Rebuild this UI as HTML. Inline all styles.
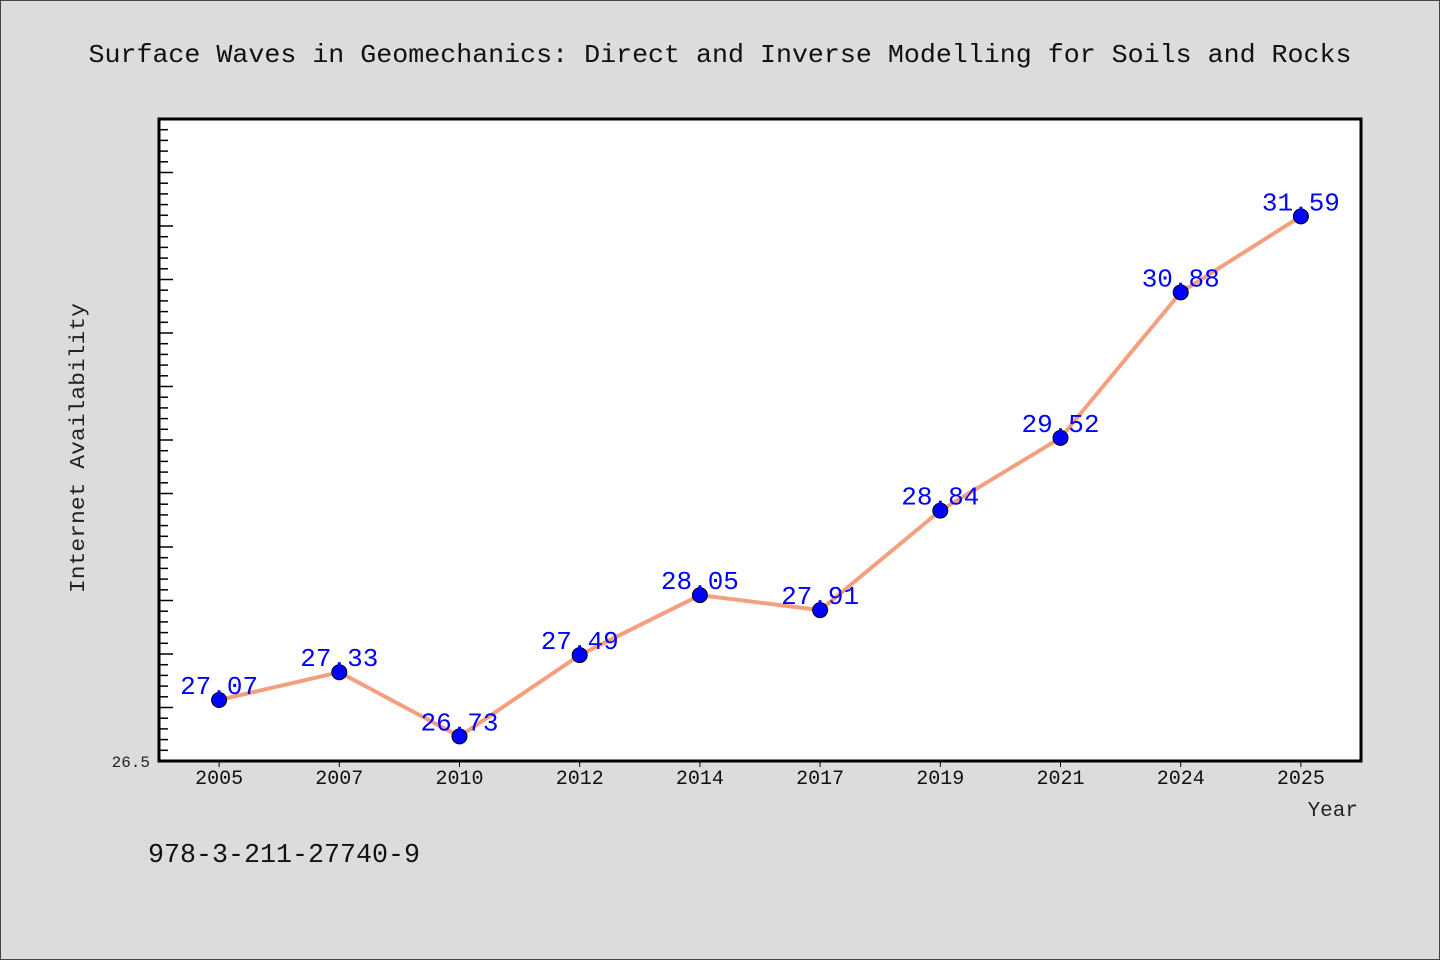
<!DOCTYPE html>
<html><head><meta charset="utf-8"><style>
body{margin:0;background:#dcdcdc;}
svg{display:block;font-family:"Liberation Mono","WenQuanYi Zen Hei",monospace;}
</style></head><body>
<svg width="1440" height="960">
<rect x="0.5" y="0.5" width="1439" height="959" fill="#dcdcdc" stroke="#444"/>
<text x="720" y="62" text-anchor="middle" font-size="26" textLength="1263" lengthAdjust="spacingAndGlyphs" fill="#111">Surface Waves in Geomechanics: Direct and Inverse Modelling for Soils and Rocks</text>
<rect x="159" y="119" width="1202" height="642" fill="#fff" stroke="#000" stroke-width="3"/>
<g id="yticks"></g><g id="xticks"></g><g id="series"></g>
<text x="150" y="767" text-anchor="end" font-size="16" fill="#222">26.5</text>
<text transform="translate(84,448) rotate(-90)" text-anchor="middle" font-size="21" textLength="290" lengthAdjust="spacingAndGlyphs" fill="#222">Internet Availability</text>
<text x="1358" y="816" text-anchor="end" font-size="21" fill="#222">Year</text>
<text x="148" y="862" font-size="27" textLength="272" lengthAdjust="spacingAndGlyphs" fill="#111">978-3-211-27740-9</text>
</svg>
<script>
const categories=["2005","2007","2010","2012","2014","2017","2019","2021","2024","2025"];
const values=[27.07,27.33,26.73,27.49,28.05,27.91,28.84,29.52,30.88,31.59];
const yMin=26.5,yMax=32.5;
const L=159,R=1361,T=119,B=761;
const ns="http://www.w3.org/2000/svg";
function y(v){return B-(v-yMin)/(yMax-yMin)*(B-T);}
function x(i){return L+(i+0.5)*(R-L)/categories.length;}
function mk(tag,attrs,parent){const e=document.createElementNS(ns,tag);for(const k in attrs)e.setAttribute(k,attrs[k]);parent.appendChild(e);return e;}
const yt=document.getElementById('yticks');
for(let k=0;k<=60;k++){const v=yMin+k*0.1;const yy=y(v);const major=k%5===0;
const t=mk('line',{x1:L,x2:L+(major?14:9),y1:yy,y2:yy,stroke:'#000','stroke-width':1.5},yt);

}
const xt=document.getElementById('xticks');
categories.forEach((c,i)=>{
const t=mk('line',{x1:x(i),x2:x(i),y1:B,y2:B+6,stroke:'#000','stroke-width':1},xt);


const l=mk('text',{x:x(i),y:B+23,'text-anchor':'middle','font-size':20,fill:'#111'},xt);
l.textContent=c;


});
const s=document.getElementById('series');
const line=mk('polyline',{points:values.map((v,i)=>x(i)+','+y(v)).join(' '),fill:'none',stroke:'#f4a07f','stroke-width':4},s);


values.forEach((v,i)=>{
const c=mk('circle',{cx:x(i),cy:y(v),r:7.5,fill:'#0000ff',stroke:'#000','stroke-width':1},s);


const l=mk('text',{x:x(i),y:y(v)-6,'text-anchor':'middle','font-size':26,fill:'#0000ff'},s);
l.textContent=v.toFixed(2);


});
</script>
</body></html>
